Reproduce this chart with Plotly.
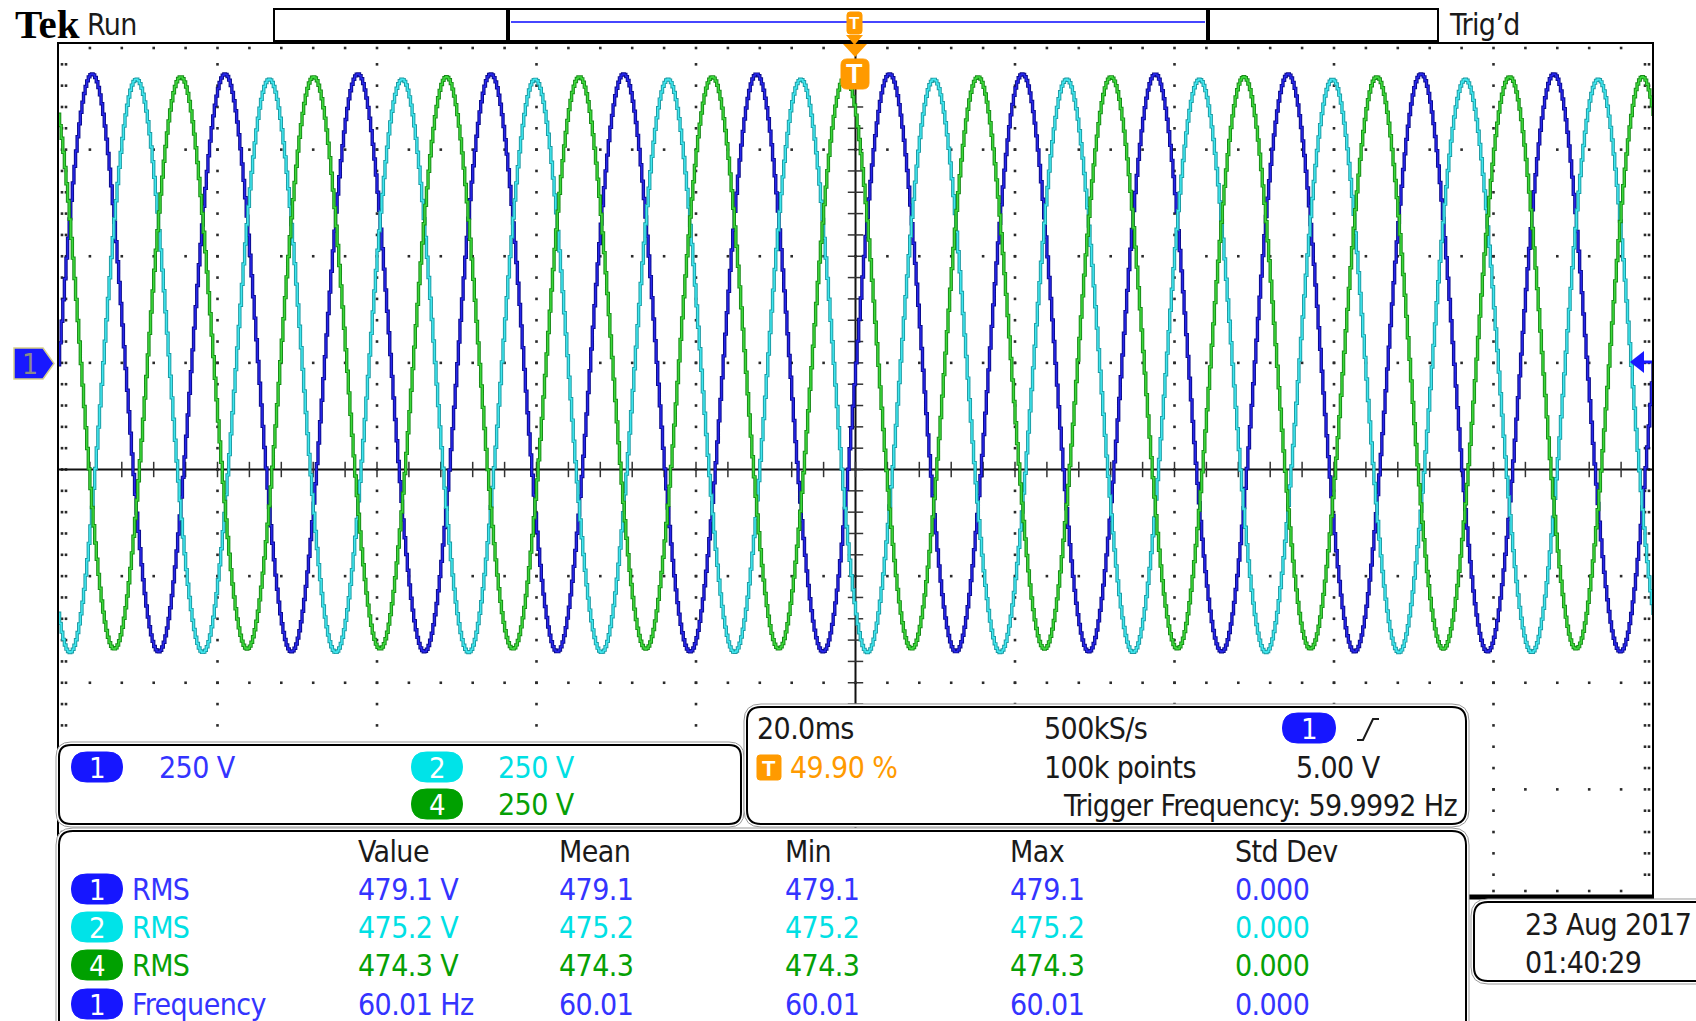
import numpy as np
import plotly.graph_objects as go

W, H = 1696, 1021

channel_ids = ["1", "2", "4"]
channel_rms_v = [479.1, 475.2, 474.3]
channel_phase_deg = [0.0, -120.0, -240.0]
channel_offset_v = [250.0, 243.0, 250.0]
channel_scale_v = [250.0, 250.0, 250.0]
channel_scale_text = ["250 V", "250 V", "250 V"]
line_freq_hz = 60.01
time_per_div_ms = 20.0
screen_points = 1000

meas_headers = ["Value", "Mean", "Min", "Max", "Std Dev"]
meas_sources = ["1", "2", "4", "1"]
meas_labels = ["RMS", "RMS", "RMS", "Frequency"]
meas_value = ["479.1 V", "475.2 V", "474.3 V", "60.01 Hz"]
meas_mean = ["479.1", "475.2", "474.3", "60.01"]
meas_min = ["479.1", "475.2", "474.3", "60.01"]
meas_max = ["479.1", "475.2", "474.3", "60.01"]
meas_std = ["0.000", "0.000", "0.000", "0.000"]

timebase_text = "20.0ms"
trig_pos_text = "49.90 %"
sample_rate_text = "500kS/s"
record_len_text = "100k points"
trig_level_text = "5.00 V"
trig_freq_text = "Trigger Frequency: 59.9992 Hz"
date_text = "23 Aug 2017"
time_text = "01:40:29"

# ---------------- styling ----------------
FONT = "Liberation Sans Narrow, DejaVu Sans Condensed, Roboto Condensed, Liberation Sans, sans-serif"
BLACK = "#1a1a1a"
CH_TEXT = {"1": "#3434ff", "2": "#00e0e4", "4": "#06a006"}
CH_BADGE = {"1": "#1616ff", "2": "#00e3e8", "4": "#00a000"}
TRACE_DARK = {"1": "#0b0b8c", "2": "#1b9aa2", "4": "#178a17"}
TRACE_LIGHT = {"1": "#2727ea", "2": "#40e6ee", "4": "#3cd83c"}
ORANGE = "#ff9a00"

GX0, GX1, GY0, GY1 = 58, 1653, 43, 896   # graticule in pixels
NXDIV, NYDIV = 10, 8

def PX(x):
    return x / W

def PY(y):
    return 1 - y / H

shapes = []
annotations = []

def path_from(points, close=True):
    s = ""
    for cmd, coords in points:
        s += cmd + " " + " ".join("%.6f,%.6f" % (PX(a), PY(b)) for a, b in coords) + " "
    if close:
        s += "Z"
    return s

def rrect(x0, y0, x1, y1, r, line="black", width=2, fill="white", layer="above"):
    pts = [("M", [(x0 + r, y0)]), ("L", [(x1 - r, y0)]), ("Q", [(x1, y0), (x1, y0 + r)]),
           ("L", [(x1, y1 - r)]), ("Q", [(x1, y1), (x1 - r, y1)]), ("L", [(x0 + r, y1)]),
           ("Q", [(x0, y1), (x0, y1 - r)]), ("L", [(x0, y0 + r)]), ("Q", [(x0, y0), (x0 + r, y0)])]
    shapes.append(dict(type="path", xref="paper", yref="paper", path=path_from(pts),
                       line=dict(color=line, width=width), fillcolor=fill, layer=layer))

def poly(coords, fill, line=None, width=0, layer="above"):
    pts = [("M", [coords[0]])] + [("L", [c]) for c in coords[1:]]
    shapes.append(dict(type="path", xref="paper", yref="paper", path=path_from(pts),
                       line=dict(color=line or fill, width=width), fillcolor=fill, layer=layer))

def seg(x0, y0, x1, y1, color="black", width=2, layer="above"):
    shapes.append(dict(type="line", xref="paper", yref="paper", x0=PX(x0), y0=PY(y0),
                       x1=PX(x1), y1=PY(y1), line=dict(color=color, width=width), layer=layer))

def txt(x, y, s, color=BLACK, size=30, anchor="left", family=FONT, squeeze=True):
    if squeeze:
        s = '<span style="letter-spacing:-0.6px">' + s + '</span>'
    annotations.append(dict(x=PX(x), y=PY(y), xref="paper", yref="paper", text=s,
                            showarrow=False, xanchor=anchor, yanchor="middle", borderpad=0,
                            font=dict(family=family, size=size, color=color)))

def badge(cx, cy, label, fill, w=51, h=30, size=29):
    rrect(cx - w / 2, cy - h / 2, cx + w / 2, cy + h / 2, h / 2, line=fill, width=1, fill=fill)
    txt(cx, cy + 1, label, color="white", size=size, anchor="center", squeeze=False)

fig = go.Figure()

# ---------------- graticule ----------------
px_per_xdiv = (GX1 - GX0) / NXDIV
px_per_ydiv = (GY1 - GY0) / NYDIV
minor_x = np.round(np.arange(-5, 5.0001, 0.2), 3)
minor_y = np.round(np.arange(-4, 4.0001, 0.2), 3)
dx, dy = [], []
for k in range(-4, 5):
    if k == 0:
        continue
    for yv in minor_y[1:-1]:
        dx.append(k); dy.append(yv)
for j in range(-3, 4):
    if j == 0:
        continue
    for xv in minor_x[1:-1]:
        dx.append(xv); dy.append(j)
ex = 1.0 / px_per_xdiv
ey = 1.0 / px_per_ydiv
for yv in minor_y[1:-1]:
    for off in (4, 8):
        dx += [-5 + off * ex, 5 - off * ex]; dy += [yv, yv]
for xv in minor_x[1:-1]:
    dx += [xv, xv]; dy += [4 - 5 * ey, -4 + 5 * ey]
fig.add_trace(go.Scatter(x=dx, y=dy, mode="markers", hoverinfo="skip",
                         marker=dict(symbol="square", size=2.6, color="#2a2a2a", line=dict(width=0))))
# centre cross
fig.add_trace(go.Scatter(x=[-5, 5], y=[0, 0], mode="lines", line=dict(color="#111", width=2), hoverinfo="skip"))
fig.add_trace(go.Scatter(x=[0, 0], y=[-4, 4], mode="lines", line=dict(color="#111", width=2), hoverinfo="skip"))
fig.add_trace(go.Scatter(x=minor_x[1:-1], y=[0] * (len(minor_x) - 2), mode="markers", hoverinfo="skip",
                         marker=dict(symbol="line-ns", size=11, line=dict(color="#333", width=1.5))))
fig.add_trace(go.Scatter(x=[0] * (len(minor_y) - 2), y=minor_y[1:-1], mode="markers", hoverinfo="skip",
                         marker=dict(symbol="line-ew", size=11, line=dict(color="#333", width=1.5))))

# ---------------- waveforms ----------------
t_ms = np.linspace(-NXDIV / 2 * time_per_div_ms, NXDIV / 2 * time_per_div_ms, screen_points + 1)
for cid, rms, ph, off, sc in zip(channel_ids, channel_rms_v, channel_phase_deg, channel_offset_v, channel_scale_v):
    v = rms * np.sqrt(2) * np.sin(2 * np.pi * line_freq_hz * t_ms / 1000.0 + np.deg2rad(ph))
    xd = t_ms / time_per_div_ms
    yd = (v + off) / sc
    fig.add_trace(go.Scatter(x=xd, y=yd, mode="lines", line=dict(color=TRACE_DARK[cid], width=3.4, shape="hv"),
                             hoverinfo="skip"))
    fig.add_trace(go.Scatter(x=xd, y=yd, mode="lines", line=dict(color=TRACE_LIGHT[cid], width=1.5, shape="hv"),
                             hoverinfo="skip"))

# graticule border
shapes.append(dict(type="rect", xref="paper", yref="paper", x0=PX(GX0), x1=PX(GX1), y0=PY(GY1), y1=PY(GY0),
                   line=dict(color="black", width=2), fillcolor="rgba(0,0,0,0)", layer="above"))
seg(GX0, GY1 + 1, GX1 + 1, GY1 + 1, "black", 5)

# ---------------- top bar ----------------
txt(14, 24, "<b>Tek</b>", color="black", size=41, family="Liberation Serif, DejaVu Serif, serif", squeeze=False)
txt(86, 24, "Run", color=BLACK, size=30)
shapes.append(dict(type="rect", xref="paper", yref="paper", x0=PX(274), x1=PX(1438), y0=PY(41), y1=PY(9),
                   line=dict(color="black", width=2), fillcolor="white", layer="above"))
seg(511, 22, 1205, 22, "#4646ff", 2)
seg(508, 9, 508, 41, "black", 4)
seg(1208, 9, 1208, 41, "black", 4)
txt(1448, 24, "Trig\u2019d", color=BLACK, size=30)
# trigger position marker in record bar
rrect(847, 12, 862, 34, 3, line=ORANGE, width=1, fill=ORANGE)
txt(854.5, 23, "<b>T</b>", color="white", size=17, anchor="center", family="Liberation Sans, sans-serif", squeeze=False)
poly([(846, 35), (863, 35), (854.5, 45)], ORANGE)
# trigger position marker on graticule
poly([(843, 44), (867, 44), (855, 57)], ORANGE)
rrect(841, 59, 869, 89, 6, line=ORANGE, width=1, fill=ORANGE)
txt(855, 74, "<b>T</b>", color="white", size=27, anchor="center", family="Liberation Sans, sans-serif", squeeze=False)

# channel 1 ground marker (left)
poly([(14, 348), (43, 348), (54, 363.5), (43, 379), (14, 379)], "#1818ff", line="#d6cf8a", width=1.5)
txt(30, 364, "1", color="#8a8a8a", size=28, anchor="center", squeeze=False)
# trigger level marker (right)
poly([(1630, 362), (1644, 351), (1644, 373)], "#1818ff")
seg(1644, 362, 1652, 362, "#1818ff", 3)

# ---------------- channel scale box ----------------
def framed(x0, y0, x1, y1, r):
    rrect(x0 - 3, y0 - 3, x1 + 3, y1 + 3, r + 3, line="#9a9a9a", width=1, fill="white")
    rrect(x0, y0, x1, y1, r, line="black", width=2, fill="white")

framed(59, 745, 741, 824, 12)
badge(97, 767, channel_ids[0], CH_BADGE["1"])
txt(158, 767, channel_scale_text[0], CH_TEXT["1"])
badge(437, 767, channel_ids[1], CH_BADGE["2"])
txt(497, 767, channel_scale_text[1], CH_TEXT["2"])
badge(437, 804, channel_ids[2], CH_BADGE["4"])
txt(497, 804, channel_scale_text[2], CH_TEXT["4"])

# ---------------- timebase / trigger box ----------------
framed(747, 707, 1466, 824, 14)
txt(756, 728, timebase_text)
rrect(757, 755, 781, 780, 3, line=ORANGE, width=1, fill=ORANGE)
txt(769, 768, "<b>T</b>", color="white", size=22, anchor="center", family="Liberation Sans, sans-serif", squeeze=False)
txt(789, 767, trig_pos_text, ORANGE)
txt(1043, 728, sample_rate_text)
txt(1043, 767, record_len_text)
badge(1309, 728, "1", CH_BADGE["1"], w=53)
shapes.append(dict(type="path", xref="paper", yref="paper",
                   path=path_from([("M", [(1357, 740)]), ("L", [(1363, 740)]), ("L", [(1373, 719)]),
                                   ("L", [(1379, 719)])], close=False),
                   line=dict(color=BLACK, width=2), layer="above"))
txt(1295, 767, trig_level_text)
txt(1458, 805, trig_freq_text, anchor="right")

# ---------------- measurement table ----------------
framed(59, 831, 1466, 1060, 14)
col_x = [357, 558, 784, 1009, 1234]
row_y = [889, 927, 965, 1004]
for cx, htext in zip(col_x, meas_headers):
    txt(cx, 851, htext)
for i, (src, lab) in enumerate(zip(meas_sources, meas_labels)):
    col = CH_TEXT[src]
    badge(97, row_y[i], src, CH_BADGE[src])
    txt(131, row_y[i], lab, col)
    for cx, vals in zip(col_x, [meas_value, meas_mean, meas_min, meas_max, meas_std]):
        txt(cx, row_y[i], vals[i], col)

# ---------------- date box ----------------
framed(1474, 902, 1730, 981, 14)
txt(1524, 924, date_text)
txt(1524, 962, time_text)

fig.update_layout(
    width=W, height=H, margin=dict(l=0, r=0, t=0, b=0, pad=0),
    paper_bgcolor="white", plot_bgcolor="white", showlegend=False,
    xaxis=dict(domain=[PX(GX0), PX(GX1)], range=[-5, 5], visible=False, fixedrange=True),
    yaxis=dict(domain=[PY(GY1), PY(GY0)], range=[-4, 4], visible=False, fixedrange=True),
    shapes=shapes, annotations=annotations,
)
fig.write_html("out.html", config={"displayModeBar": False},
               post_script="document.body.style.margin='0';document.body.style.padding='0';document.body.style.overflow='hidden';")
